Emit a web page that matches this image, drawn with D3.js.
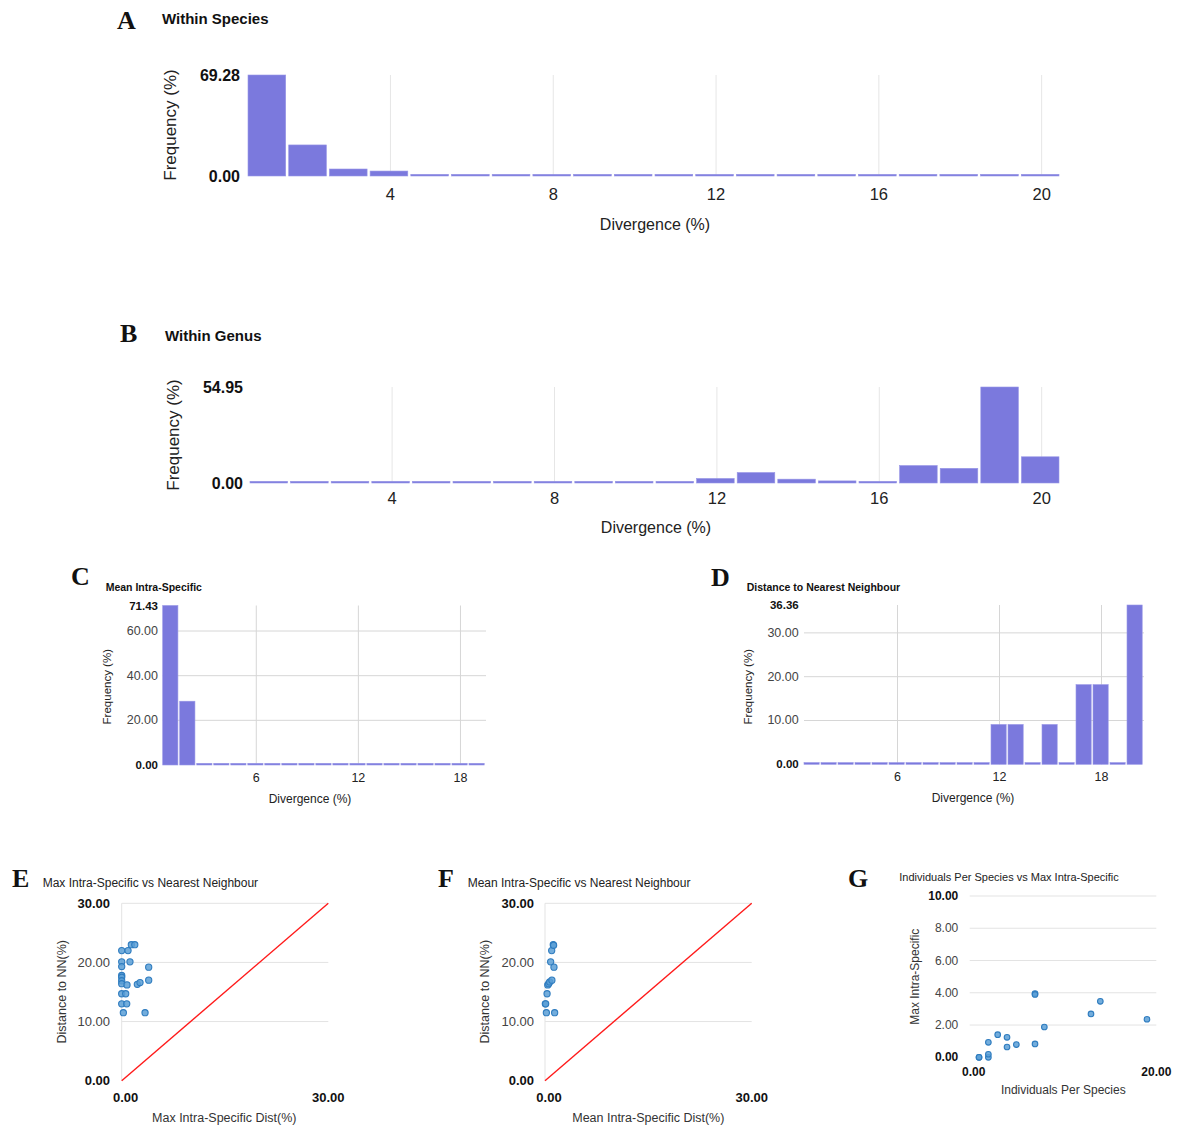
<!DOCTYPE html>
<html>
<head>
<meta charset="utf-8">
<script src="https://cdn.jsdelivr.net/npm/d3@7"></script>
<style>
  body { margin: 0; background: #fff; }
  svg text { font-family: "Liberation Sans", Arial, sans-serif; }
  .letter { font-family: "Liberation Serif", "Times New Roman", serif !important; font-weight: bold; }
</style>
</head>
<body>
<div id="chart"></div>
<script>
// ---- data ----
const bins20 = [1, 2, 3, 4, 5, 6, 7, 8, 9, 10, 11, 12, 13, 14, 15, 16, 17, 18, 19, 20];
const bins19 = [1, 2, 3, 4, 5, 6, 7, 8, 9, 10, 11, 12, 13, 14, 15, 16, 17, 18, 19];

const freqSpecies = [69.28, 21.3, 4.8, 3.4, 0, 0, 0, 0, 0, 0, 0, 0, 0, 0, 0, 0, 0, 0, 0, 0];
const freqGenus = [0, 0, 0, 0, 0, 0, 0, 0, 0, 0, 0, 2.6, 6.0, 2.2, 1.2, 0.3, 10.0, 8.4, 54.95, 15.0];
const freqMeanIntra = [71.43, 28.57, 0, 0, 0, 0, 0, 0, 0, 0, 0, 0, 0, 0, 0, 0, 0, 0, 0];
const freqNearest = [0, 0, 0, 0, 0, 0, 0, 0, 0, 0, 0, 9.09, 9.09, 0, 9.09, 0, 18.18, 18.18, 0, 36.36];

const ticksAB = [4, 8, 12, 16, 20];
const ticksCD = [6, 12, 18];

// E: max intra-specific vs distance to NN
const maxIntraE = [0, 0, 0, 0, 0, 0, 0, 0, 0, 0.24, 0.58, 0.73, 0.77, 0.92, 1.2, 1.4, 1.9, 2.27, 2.66, 3.39, 3.92, 3.92];
const nnE = [22.0, 20.1, 19.3, 17.8, 17.5, 16.9, 16.4, 14.7, 13.0, 11.5, 14.7, 13.0, 16.2, 22.0, 20.1, 23.0, 23.0, 16.3, 16.6, 11.5, 19.2, 17.0];

// F: mean intra-specific vs distance to NN
const meanIntraF = [0.05, 0.1, 0.2, 0.3, 0.4, 0.53, 0.68, 0.82, 0.97, 1.0, 1.2, 1.25, 1.3, 1.4];
const nnF = [13.0, 13.0, 11.5, 14.7, 16.2, 16.4, 16.7, 20.1, 22.0, 17.0, 23.0, 22.9, 19.2, 11.5];

// G: individuals per species vs max intra-specific
const indivG = [1, 1, 2, 2, 2, 3, 4, 4, 5, 7, 7, 7, 8, 13, 14, 19];
const maxIntraG = [0, 0, 0, 0.19, 0.93, 1.4, 1.24, 0.64, 0.79, 3.95, 3.9, 0.83, 1.88, 2.69, 3.47, 2.36];

const diagLine = [[0, 0], [30, 30]];

// ---- drawing ----
const svg = d3.select("#chart").append("svg")
    .attr("width", 1182)
    .attr("height", 1135);

function label(x, y, txt, opts) {
    opts = opts || {};
    let t = svg.append("text")
        .attr("x", x).attr("y", y)
        .attr("dominant-baseline", "central")
        .attr("text-anchor", opts.anchor || "start")
        .attr("font-size", opts.size || 12)
        .attr("font-weight", opts.weight || "normal")
        .attr("fill", opts.color || "#222")
        .text(txt);
    if (opts.rotate) t.attr("transform", `rotate(-90, ${x}, ${y})`);
    if (opts.cls) t.attr("class", opts.cls);
    return t;
}

function histogram(cfg) {
    let g = svg.append("g");
    let x = d3.scaleBand().domain(cfg.bins).range([cfg.x0, cfg.x1]);
    let y = d3.scaleLinear().domain([0, d3.max(cfg.values)]).range([cfg.yBase, cfg.yTop]);

    // horizontal grid
    (cfg.hGrid || []).forEach(v => {
        g.append("line")
            .attr("x1", cfg.x0).attr("x2", cfg.x1)
            .attr("y1", y(v)).attr("y2", y(v))
            .attr("stroke", cfg.gridColor).attr("stroke-width", 1);
    });
    // vertical grid at ticks
    cfg.ticks.forEach(t => {
        let cx = x(t) + x.bandwidth() / 2;
        g.append("line")
            .attr("x1", cx).attr("x2", cx)
            .attr("y1", cfg.yTop).attr("y2", cfg.yBase)
            .attr("stroke", cfg.gridColor).attr("stroke-width", 1);
    });

    g.selectAll("rect.bar")
        .data(cfg.bins.map((b, i) => ({bin: b, v: cfg.values[i]})))
        .join("rect")
        .attr("class", "bar")
        .attr("x", d => x(d.bin))
        .attr("width", x.bandwidth() - cfg.gap)
        .attr("y", d => Math.min(y(d.v), cfg.yBase - 1.7))
        .attr("height", d => Math.max(cfg.yBase - y(d.v), 1.7))
        .attr("fill", "#7b79dd")
        .attr("stroke", "#9896e6")
        .attr("stroke-width", 0.6);

    // x tick labels
    cfg.ticks.forEach(t => {
        label(x(t) + x.bandwidth() / 2, cfg.xTickY, t, {anchor: "middle", size: cfg.tickSize, color: "#222"});
    });
    // y tick labels
    cfg.yTicks.forEach(v => {
        let ext = (v === 0 || v === d3.max(cfg.values));
        label(cfg.yLabelX, y(v), v.toFixed(2), {
            anchor: "end",
            size: ext ? cfg.yTickSizeBold : cfg.tickSize,
            weight: ext ? "bold" : "normal",
            color: ext ? "#111" : "#444"
        });
    });
    label(cfg.xTitleX, cfg.xTitleY, "Divergence (%)", {anchor: "middle", size: cfg.titleSize, color: "#222"});
    label(cfg.yTitleX, cfg.yTitleY, "Frequency (%)", {anchor: "middle", size: cfg.yTitleSize, color: "#222", rotate: true});
}

function scatter(cfg) {
    let g = svg.append("g");
    let x = d3.scaleLinear().domain(cfg.xDomain).range([cfg.x0, cfg.x1]);
    let y = d3.scaleLinear().domain(cfg.yDomain).range([cfg.y0, cfg.y1]);

    cfg.hGrid.forEach(v => {
        g.append("line")
            .attr("x1", cfg.x0).attr("x2", cfg.x1)
            .attr("y1", y(v)).attr("y2", y(v))
            .attr("stroke", "#e3e3e3").attr("stroke-width", 1);
    });
    if (cfg.vAxisLine) {
        g.append("line")
            .attr("x1", cfg.x0).attr("x2", cfg.x0)
            .attr("y1", cfg.y1).attr("y2", cfg.y0)
            .attr("stroke", "#e3e3e3").attr("stroke-width", 1);
    }
    if (cfg.diag) {
        g.append("path")
            .datum(cfg.diag)
            .attr("d", d3.line().x(d => x(d[0])).y(d => y(d[1])))
            .attr("stroke", "#ff1a1a").attr("stroke-width", 1.4).attr("fill", "none");
    }
    g.selectAll("circle")
        .data(cfg.xs.map((v, i) => [v, cfg.ys[i]]))
        .join("circle")
        .attr("cx", d => x(d[0]))
        .attr("cy", d => y(d[1]))
        .attr("r", cfg.r)
        .attr("fill", "#5b9fd6")
        .attr("fill-opacity", 0.85)
        .attr("stroke", "#2f7cbf")
        .attr("stroke-width", 1.1);

    cfg.yTicks.forEach(v => {
        let ext = (v === cfg.yDomain[0] || v === cfg.yDomain[1]);
        label(cfg.yLabelX, y(v), v.toFixed(2), {
            anchor: "end", size: cfg.tickSize,
            weight: ext ? "bold" : "normal",
            color: ext ? "#111" : "#444"
        });
    });
    cfg.xTicks.forEach((v, i) => {
        label(x(v) + (i === 0 ? 4 : 0), cfg.xTickY, v.toFixed(2), {anchor: "middle", size: cfg.tickSize, weight: "bold", color: "#111"});
    });
    label(cfg.xTitleX, cfg.xTitleY, cfg.xTitle, {anchor: "middle", size: cfg.axisTitleSize, color: "#333"});
    label(cfg.yTitleX, cfg.yTitleY, cfg.yTitle, {anchor: "middle", size: cfg.axisTitleSize, color: "#333", rotate: true});
    label(cfg.titleX, cfg.titleY, cfg.title, {size: cfg.titleSize, color: "#222"});
}

// Panel A
label(117, 20, "A", {size: 26, cls: "letter", color: "#111"});
label(162, 18, "Within Species", {size: 15, weight: "bold", color: "#111"});
histogram({
    bins: bins20, values: freqSpecies, ticks: ticksAB,
    x0: 248, x1: 1062, yTop: 75, yBase: 176, gap: 3,
    yTicks: [0, 69.28], hGrid: [], gridColor: "#e6e6e6",
    yLabelX: 240, xTickY: 194, tickSize: 16.5, yTickSizeBold: 16,
    xTitleX: 655, xTitleY: 224, titleSize: 16,
    yTitleX: 170, yTitleY: 125, yTitleSize: 17
});

// Panel B
label(120, 333, "B", {size: 26, cls: "letter", color: "#111"});
label(165, 335, "Within Genus", {size: 15, weight: "bold", color: "#111"});
histogram({
    bins: bins20, values: freqGenus, ticks: ticksAB,
    x0: 250, x1: 1062, yTop: 387, yBase: 483, gap: 3,
    yTicks: [0, 54.95], hGrid: [], gridColor: "#e6e6e6",
    yLabelX: 243, xTickY: 498, tickSize: 16.5, yTickSizeBold: 16,
    xTitleX: 656, xTitleY: 527, titleSize: 16,
    yTitleX: 173, yTitleY: 435, yTitleSize: 17
});

// Panel C
label(71, 576, "C", {size: 26, cls: "letter", color: "#111"});
label(105.7, 587, "Mean Intra-Specific", {size: 10.5, weight: "bold", color: "#111"});
histogram({
    bins: bins19, values: freqMeanIntra, ticks: ticksCD,
    x0: 162.7, x1: 486, yTop: 605.5, yBase: 765, gap: 1.8,
    yTicks: [0, 20, 40, 60, 71.43], hGrid: [20, 40, 60], gridColor: "#d6d6d6",
    yLabelX: 158, xTickY: 778, tickSize: 12.5, yTickSizeBold: 11.5,
    xTitleX: 310, xTitleY: 799, titleSize: 12,
    yTitleX: 106.7, yTitleY: 686.7, yTitleSize: 11.5
});

// Panel D
label(711, 577, "D", {size: 26, cls: "letter", color: "#111"});
label(746.7, 587, "Distance to Nearest Neighbour", {size: 10.5, weight: "bold", color: "#111"});
histogram({
    bins: bins20, values: freqNearest, ticks: ticksCD,
    x0: 804, x1: 1144, yTop: 605, yBase: 764.3, gap: 1.8,
    yTicks: [0, 10, 20, 30, 36.36], hGrid: [10, 20, 30], gridColor: "#d6d6d6",
    yLabelX: 798.7, xTickY: 777, tickSize: 12.5, yTickSizeBold: 11.5,
    xTitleX: 973, xTitleY: 798, titleSize: 12,
    yTitleX: 747.7, yTitleY: 686.7, yTitleSize: 11.5
});

// Panel E
label(12, 878, "E", {size: 26, cls: "letter", color: "#111"});
scatter({
    xs: maxIntraE, ys: nnE, xDomain: [0, 30], yDomain: [0, 30],
    x0: 121.7, x1: 328.3, y0: 1080.7, y1: 903.3,
    hGrid: [10, 20, 30], vAxisLine: true, diag: diagLine, r: 3.1,
    yTicks: [0, 10, 20, 30], xTicks: [0, 30],
    yLabelX: 110, xTickY: 1097.5, tickSize: 13,
    xTitle: "Max Intra-Specific Dist(%)", xTitleX: 224.3, xTitleY: 1118,
    yTitle: "Distance to NN(%)", yTitleX: 61.7, yTitleY: 991.7, axisTitleSize: 12.5,
    title: "Max Intra-Specific vs Nearest Neighbour", titleX: 42.7, titleY: 882.7, titleSize: 12
});

// Panel F
label(438, 878, "F", {size: 26, cls: "letter", color: "#111"});
scatter({
    xs: meanIntraF, ys: nnF, xDomain: [0, 30], yDomain: [0, 30],
    x0: 545, x1: 751.7, y0: 1080.7, y1: 903.3,
    hGrid: [10, 20, 30], vAxisLine: true, diag: diagLine, r: 3.1,
    yTicks: [0, 10, 20, 30], xTicks: [0, 30],
    yLabelX: 534, xTickY: 1097.5, tickSize: 13,
    xTitle: "Mean Intra-Specific Dist(%)", xTitleX: 648.3, xTitleY: 1118,
    yTitle: "Distance to NN(%)", yTitleX: 485, yTitleY: 991.7, axisTitleSize: 12.5,
    title: "Mean Intra-Specific vs Nearest Neighbour", titleX: 467.7, titleY: 882.7, titleSize: 12
});

// Panel G
label(848, 878, "G", {size: 26, cls: "letter", color: "#111"});
scatter({
    xs: indivG, ys: maxIntraG, xDomain: [0, 20], yDomain: [0, 10],
    x0: 969.7, x1: 1156.3, y0: 1057.3, y1: 896,
    hGrid: [2, 4, 6, 8, 10], vAxisLine: false, diag: null, r: 2.8,
    yTicks: [0, 2, 4, 6, 8, 10], xTicks: [0, 20],
    yLabelX: 958.3, xTickY: 1071.7, tickSize: 12,
    xTitle: "Individuals Per Species", xTitleX: 1063.3, xTitleY: 1090,
    yTitle: "Max Intra-Specific", yTitleX: 915, yTitleY: 976.7, axisTitleSize: 12,
    title: "Individuals Per Species vs Max Intra-Specific", titleX: 899.3, titleY: 876.7, titleSize: 11
});
</script>
</body>
</html>
